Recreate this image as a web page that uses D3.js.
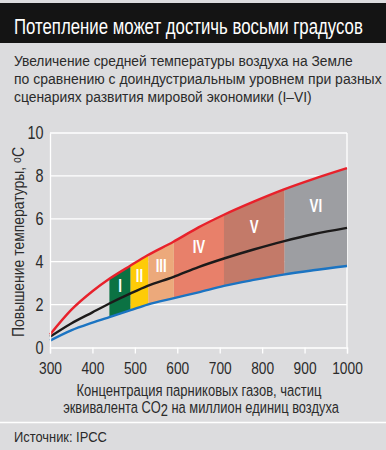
<!DOCTYPE html>
<html>
<head>
<meta charset="utf-8">
<script src="https://cdn.jsdelivr.net/npm/d3@7"></script>
<style>
  body { margin: 0; background: #dcdcde; }
  svg { display: block; }
</style>
</head>
<body>
<div id="chart"></div>
<script>
// concentration points (ppm CO2-eq) and temperature rise
const conc  = [300, 350, 400, 440, 490, 530, 590, 650, 710, 780, 850, 920, 1000];
const upper = [0.6, 1.75, 2.62, 3.2, 3.82, 4.3, 4.92, 5.6, 6.19, 6.8, 7.36, 7.85, 8.36];
const mid   = [0.5, 1.12, 1.64, 2.05, 2.52, 2.87, 3.28, 3.75, 4.15, 4.57, 4.95, 5.28, 5.58];
const lower = [0.32, 0.8, 1.16, 1.42, 1.74, 2.0, 2.29, 2.57, 2.87, 3.15, 3.4, 3.6, 3.8];

const scenNames = ['I', 'II', 'III', 'IV', 'V', 'VI'];
const scenFrom  = [440, 490, 532, 592, 710, 853];
const scenTo    = [490, 532, 592, 710, 853, 1000];
const scenColor = ['#0b7243', '#fecb08', '#eca97b', '#e8806a', '#c37a69', '#9d9ea2'];
const scenLabelY = [2.9, 3.35, 3.85, 4.7, 5.65, 6.65];

const xTicks = [300, 400, 500, 600, 700, 800, 900, 1000];
const yTicks = [0, 2, 4, 6, 8, 10];

const W = 386, H = 450;
const font = '"Liberation Sans", Arial, sans-serif';
const textCol = '#2b2b2b';

const svg = d3.select('#chart').append('svg')
  .attr('width', W).attr('height', H)
  .style('font-family', font);

svg.append('rect').attr('width', W).attr('height', H).attr('fill', '#dcdcde');

// text squeezed horizontally to a given width (the original uses a condensed face)
function label(parent, x, y, str, size, width, anchor) {
  const t = parent.append('text')
    .attr('text-anchor', anchor || 'start')
    .attr('fill', textCol).style('font-size', size + 'px');
  if (str) t.text(str);
  t.fit = () => {
    const w = t.node().getComputedTextLength();
    t.attr('transform', `translate(${x},${y}) scale(${width / w},1)`);
    return t;
  };
  return t;
}

// header
svg.append('rect').attr('x', 0).attr('y', 3).attr('width', W).attr('height', 40).attr('fill', '#141414');
label(svg, 14, 33.5, 'Потепление может достичь восьми градусов', 22.5, 349).attr('fill', '#fff').fit();

const sub = [
  ['Увеличение средней температуры воздуха на Земле', 339],
  ['по сравнению с доиндустриальным уровнем при разных', 368],
  ['сценариях развития мировой экономики (I–VI)', 298]
];
sub.forEach((s, i) => label(svg, 14, 65.5 + i * 18.3, s[0], 15.5, s[1]).fit());

// plot
const x = d3.scaleLinear().domain([300, 1000]).range([50, 347]);
const y = d3.scaleLinear().domain([0, 10]).range([347.5, 133]);

const g = svg.append('g');

// gridlines
g.selectAll('line.grid').data(yTicks.filter(d => d > 0)).enter().append('line')
  .attr('x1', x(300)).attr('x2', x(1000))
  .attr('y1', d => y(d)).attr('y2', d => y(d))
  .attr('stroke', '#fff').attr('stroke-width', 1.3);
g.append('line').attr('x1', x(1000)).attr('x2', x(1000)).attr('y1', y(0)).attr('y2', y(10))
  .attr('stroke', '#fff').attr('stroke-width', 1.3);

const pts = conc.map((c, i) => ({c, up: upper[i], md: mid[i], lo: lower[i]}));
const curve = d3.curveMonotoneX;

// scenario bands, clipped to x-ranges
const defs = svg.append('defs');
const band = d3.area().x(d => x(d.c)).y0(d => y(d.lo)).y1(d => y(d.up)).curve(curve);
scenNames.forEach((n, i) => {
  defs.append('clipPath').attr('id', 'clip' + i)
    .append('rect')
    .attr('x', x(scenFrom[i])).attr('y', 0)
    .attr('width', x(scenTo[i]) - x(scenFrom[i])).attr('height', H);
  g.append('path').datum(pts)
    .attr('d', band)
    .attr('fill', scenColor[i])
    .attr('clip-path', `url(#clip${i})`);
});

// lines
const lineOf = key => d3.line().x(d => x(d.c)).y(d => y(d[key])).curve(curve);
[['lo', '#1b74c2'], ['md', '#1c1a1a'], ['up', '#e8212b']].forEach(([k, col]) => {
  g.append('path').datum(pts).attr('d', lineOf(k))
    .attr('fill', 'none').attr('stroke', col).attr('stroke-width', 2.4);
});

// scenario labels
scenNames.forEach((n, i) => {
  g.append('text')
    .attr('transform', `translate(${x((scenFrom[i] + scenTo[i]) / 2)},${y(scenLabelY[i])}) scale(0.7,1)`)
    .attr('text-anchor', 'middle').attr('dy', '0.35em')
    .attr('fill', '#fff').style('font-size', '19px').style('font-weight', 'bold')
    .text(n);
});

// axes
const xAxis = g.append('g').attr('transform', `translate(0,${y(0)})`)
  .call(d3.axisBottom(x).tickValues(xTicks).tickSize(6).tickPadding(9).tickFormat(d3.format('d')));
xAxis.select('.domain').attr('stroke', '#fff').attr('stroke-width', 1.3);
xAxis.selectAll('.tick line').attr('stroke', '#fff').attr('stroke-width', 1.3);
xAxis.selectAll('.tick text').attr('fill', textCol)
  .style('font-size', '16px').style('font-family', font)
  .attr('transform', 'scale(0.86,1)');

const yAxis = g.append('g').attr('transform', `translate(${x(300)},0)`)
  .call(d3.axisLeft(y).tickValues(yTicks).tickSize(0).tickPadding(8));
yAxis.select('.domain').attr('stroke', '#fff').attr('stroke-width', 1.3);
yAxis.selectAll('.tick text').attr('fill', textCol)
  .style('font-size', '18px').style('font-family', font)
  .attr('transform', 'scale(0.8,1)');

// y label
const yl = svg.append('text')
  .attr('text-anchor', 'middle').attr('fill', textCol)
  .style('font-size', '16px');
yl.append('tspan').text('Повышение температуры, ');
yl.append('tspan').text('о').style('font-size', '12px').attr('dy', '-3');
yl.append('tspan').text('С').attr('dy', '3');
{
  const w = yl.node().getComputedTextLength();
  yl.attr('transform', `translate(24,242) rotate(-90) scale(${190 / w},1)`);
}

// x label
label(svg, 199, 395.5, 'Концентрация парниковых газов, частиц', 16.5, 245, 'middle').fit();
const xl2 = label(svg, 201, 413, null, 16.5, 276, 'middle');
xl2.append('tspan').text('эквивалента CO');
xl2.append('tspan').text('2').attr('dy', 3);
xl2.append('tspan').text(' на миллион единиц воздуха').attr('dy', -3);
xl2.fit();

// footer
svg.append('line').attr('x1', 0).attr('x2', W).attr('y1', 422.5).attr('y2', 422.5)
  .attr('stroke', '#fff').attr('stroke-width', 1.5);
label(svg, 14, 442, 'Источник: IPCC', 15, 93).fit();
</script>
</body>
</html>
